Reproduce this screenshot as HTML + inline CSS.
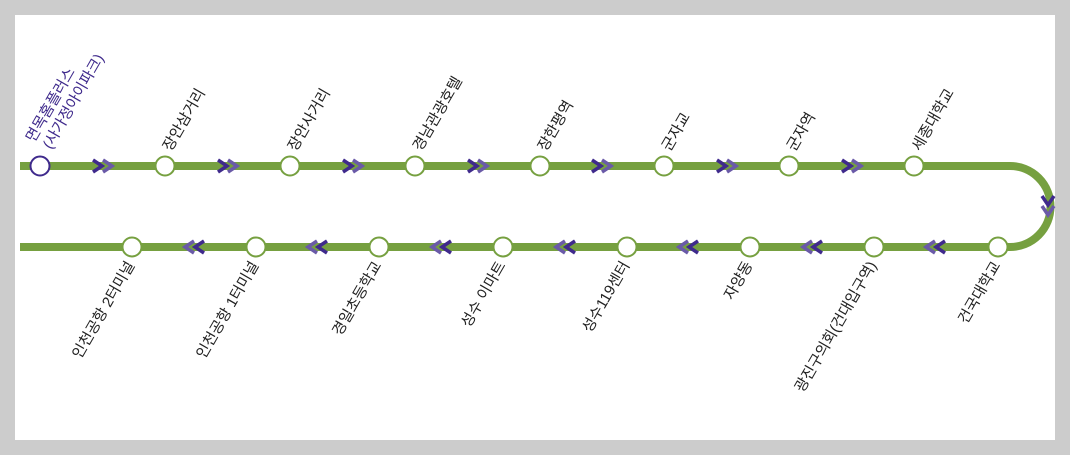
<!DOCTYPE html>
<html><head><meta charset="utf-8"><style>
html,body{margin:0;padding:0;background:#cccccc;width:1070px;height:455px;overflow:hidden}
svg{display:block}
text{font-family:"Liberation Sans","Noto Sans CJK KR",sans-serif;font-size:15px;fill:#222}
</style></head><body>
<svg width="1070" height="455" viewBox="0 0 1070 455">
<rect x="15" y="15" width="1040" height="425" fill="#fff"/>
<defs>
<g id="chev">
<path d="M-11,-6 L-2,0 L-11,6" fill="none" stroke="#3f2a8c" stroke-width="3.5"/>
<path d="M-1,-6 L8,0 L-1,6" fill="none" stroke="#6a5aa8" stroke-width="3.5"/>
</g>
</defs>
<path d="M20,166 H1010 A40.5,40.5 0 0 1 1010,247 H20" fill="none" stroke="#76a040" stroke-width="8"/>
<use href="#chev" transform="translate(104,166)"/>
<use href="#chev" transform="translate(229,166)"/>
<use href="#chev" transform="translate(354,166)"/>
<use href="#chev" transform="translate(479,166)"/>
<use href="#chev" transform="translate(603,166)"/>
<use href="#chev" transform="translate(728,166)"/>
<use href="#chev" transform="translate(853,166)"/>
<use href="#chev" transform="translate(1048,207) rotate(90)"/>
<use href="#chev" transform="translate(934,247) rotate(180)"/>
<use href="#chev" transform="translate(811,247) rotate(180)"/>
<use href="#chev" transform="translate(687,247) rotate(180)"/>
<use href="#chev" transform="translate(564,247) rotate(180)"/>
<use href="#chev" transform="translate(440,247) rotate(180)"/>
<use href="#chev" transform="translate(316,247) rotate(180)"/>
<use href="#chev" transform="translate(193,247) rotate(180)"/>
<g fill="#fff" stroke="#76a040" stroke-width="2">
<circle cx="40" cy="166" r="9.5" stroke="#3f2a8c"/>
<circle cx="165" cy="166" r="9.5"/><circle cx="290" cy="166" r="9.5"/><circle cx="415" cy="166" r="9.5"/>
<circle cx="540" cy="166" r="9.5"/><circle cx="664" cy="166" r="9.5"/><circle cx="789" cy="166" r="9.5"/>
<circle cx="914" cy="166" r="9.5"/>
<circle cx="998" cy="247" r="9.5"/><circle cx="874" cy="247" r="9.5"/><circle cx="750" cy="247" r="9.5"/>
<circle cx="627" cy="247" r="9.5"/><circle cx="503" cy="247" r="9.5"/><circle cx="379" cy="247" r="9.5"/>
<circle cx="256" cy="247" r="9.5"/><circle cx="132" cy="247" r="9.5"/>
</g>
<text transform="translate(34,143) rotate(-60)" style="fill:#3f2a8c">면목홈플러스</text>
<text transform="translate(51,150) rotate(-60)" style="fill:#3f2a8c">(사가정아이파크)</text>
<text transform="translate(171,152) rotate(-60)">장안삼거리</text>
<text transform="translate(296,152) rotate(-60)">장안사거리</text>
<text transform="translate(421,152) rotate(-60)">경남관광호텔</text>
<text transform="translate(546,152) rotate(-60)">장한평역</text>
<text transform="translate(670,152) rotate(-60)">군자교</text>
<text transform="translate(795,152) rotate(-60)">군자역</text>
<text transform="translate(920,152) rotate(-60)">세종대학교</text>
<g text-anchor="end">
<text transform="translate(1001,265) rotate(-60)">건국대학교</text>
<text transform="translate(877,265) rotate(-60)">광진구의회(건대입구역)</text>
<text transform="translate(753,265) rotate(-60)">자양동</text>
<text transform="translate(630,265) rotate(-60)">성수119센터</text>
<text transform="translate(506,265) rotate(-60)">성수 이마트</text>
<text transform="translate(382,265) rotate(-60)">경일초등학교</text>
<text transform="translate(259,265) rotate(-60)">인천공항 1터미널</text>
<text transform="translate(135,265) rotate(-60)">인천공항 2터미널</text>
</g>
</svg>
</body></html>
